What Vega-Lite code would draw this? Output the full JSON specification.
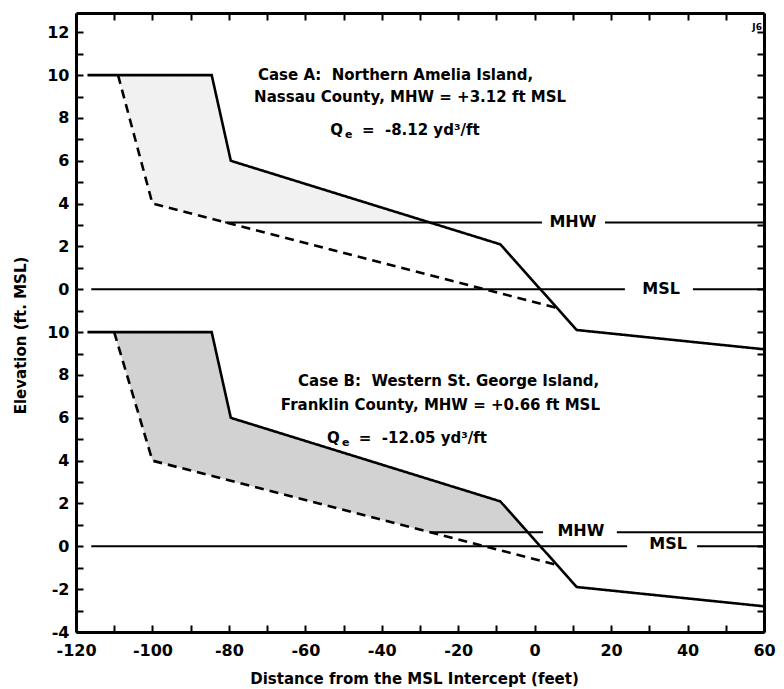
{
  "$schema": "https://vega.github.io/schema/vega-lite/v6.json",
  "autosize": {"type": "none"},
  "width": 688,
  "height": 619,
  "padding": {"left": 76, "top": 13, "right": 20, "bottom": 57},
  "background": "white",
  "config": {
    "view": {"stroke": null},
    "font": "DejaVu Sans",
    "axis": {
      "grid": false,
      "domainColor": "black",
      "domainWidth": 3,
      "tickColor": "black",
      "tickWidth": 2,
      "tickSize": -7,
      "labelFont": "DejaVu Sans",
      "labelFontWeight": "bold",
      "labelFontSize": 16,
      "labelColor": "black",
      "labelFlush": false,
      "labelOverlap": false,
      "titleFont": "DejaVu Sans",
      "titleFontWeight": "bold",
      "titleFontSize": 15,
      "titleColor": "black"
    }
  },
  "datasets": {
    "profiles": [
      {"case": "A", "profile": "pre-storm", "x": -117, "elev": 10},
      {"case": "A", "profile": "pre-storm", "x": -84.5, "elev": 10},
      {"case": "A", "profile": "pre-storm", "x": -79.5, "elev": 6},
      {"case": "A", "profile": "pre-storm", "x": -9, "elev": 2.1},
      {"case": "A", "profile": "pre-storm", "x": 11, "elev": -1.9},
      {"case": "A", "profile": "pre-storm", "x": 60, "elev": -2.8},
      {"case": "A", "profile": "post-storm", "x": -109, "elev": 10},
      {"case": "A", "profile": "post-storm", "x": -100, "elev": 4},
      {"case": "A", "profile": "post-storm", "x": 5.5, "elev": -0.85},
      {"case": "B", "profile": "pre-storm", "x": -117, "elev": 10},
      {"case": "B", "profile": "pre-storm", "x": -84.5, "elev": 10},
      {"case": "B", "profile": "pre-storm", "x": -79.5, "elev": 6},
      {"case": "B", "profile": "pre-storm", "x": -9, "elev": 2.1},
      {"case": "B", "profile": "pre-storm", "x": 11, "elev": -1.9},
      {"case": "B", "profile": "pre-storm", "x": 60, "elev": -2.8},
      {"case": "B", "profile": "post-storm", "x": -110, "elev": 10},
      {"case": "B", "profile": "post-storm", "x": -100, "elev": 4},
      {"case": "B", "profile": "post-storm", "x": 5.5, "elev": -0.85}
    ],
    "eroded": [
      {"case": "A", "x": -109, "upper": 10, "lower": 10},
      {"case": "A", "x": -100, "upper": 10, "lower": 4},
      {"case": "A", "x": -84.5, "upper": 10, "lower": 3.29},
      {"case": "A", "x": -81, "upper": 7.2, "lower": 3.12},
      {"case": "A", "x": -79.5, "upper": 6, "lower": 3.12},
      {"case": "A", "x": -27.4, "upper": 3.12, "lower": 3.12},
      {"case": "B", "x": -110, "upper": 10, "lower": 10},
      {"case": "B", "x": -100, "upper": 10, "lower": 4},
      {"case": "B", "x": -84.5, "upper": 10, "lower": 3.29},
      {"case": "B", "x": -79.5, "upper": 6, "lower": 3.06},
      {"case": "B", "x": -27.4, "upper": 3.12, "lower": 0.66},
      {"case": "B", "x": -9, "upper": 2.1, "lower": 0.66},
      {"case": "B", "x": -1.8, "upper": 0.66, "lower": 0.66}
    ],
    "levels": [
      {"case": "A", "level": "MHW", "x": -81, "x2": 1.9, "elev": 3.12},
      {"case": "A", "level": "MHW", "x": 18.4, "x2": 60, "elev": 3.12},
      {"case": "A", "level": "MSL", "x": -116, "x2": 23.6, "elev": 0},
      {"case": "A", "level": "MSL", "x": 41.4, "x2": 60, "elev": 0},
      {"case": "B", "level": "MHW", "x": -27.4, "x2": 2.2, "elev": 0.66},
      {"case": "B", "level": "MHW", "x": 21.5, "x2": 60, "elev": 0.66},
      {"case": "B", "level": "MSL", "x": -116, "x2": 24.2, "elev": 0},
      {"case": "B", "level": "MSL", "x": 42.5, "x2": 60, "elev": 0}
    ],
    "levelLabels": [
      {"case": "A", "text": "MHW", "x": 10.0, "elev": 3.12},
      {"case": "A", "text": "MSL", "x": 33.1, "elev": 0},
      {"case": "B", "text": "MHW", "x": 12.1, "elev": 0.7},
      {"case": "B", "text": "MSL", "x": 34.9, "elev": 0.1}
    ],
    "notes": [
      {"case": "A", "text": "Case A:\u00a0 Northern Amelia Island,", "x": -72.4, "elev": 10.0},
      {"case": "A", "text": "Nassau County, MHW = +3.12 ft MSL", "x": -73.4, "elev": 8.98},
      {"case": "A", "text": "Q", "x": -53.5, "elev": 7.44},
      {"case": "A", "text": "=\u00a0 -8.12 yd\u00b3/ft", "x": -45.2, "elev": 7.44},
      {"case": "B", "text": "Case B:\u00a0 Western St. George Island,", "x": -61.9, "elev": 7.72},
      {"case": "B", "text": "Franklin County, MHW = +0.66 ft MSL", "x": -66.4, "elev": 6.6},
      {"case": "B", "text": "Q", "x": -54.3, "elev": 5.06},
      {"case": "B", "text": "=\u00a0 -12.05 yd\u00b3/ft", "x": -46.0, "elev": 5.06}
    ],
    "subscripts": [
      {"case": "A", "text": "e", "x": -49.6, "elev": 7.2},
      {"case": "B", "text": "e", "x": -50.4, "elev": 4.82}
    ],
    "corner": [
      {"text": "J6", "x": 58.2, "elev": 12.25}
    ]
  },
  "layer": [
    {
      "data": {"name": "eroded"},
      "transform": [{"filter": "datum.case === 'A'"}],
      "mark": {"type": "area", "fill": "#f1f1f1", "interpolate": "linear"},
      "encoding": {
        "x": {"field": "x", "type": "quantitative", "scale": {"domain": [-120, 60], "nice": false, "zero": false}, "axis": null},
        "y": {"field": "upper", "type": "quantitative", "scale": {"domain": [-16, 12.9], "nice": false, "zero": false}, "axis": null},
        "y2": {"field": "lower"}
      }
    },
    {
      "data": {"name": "eroded"},
      "transform": [{"filter": "datum.case === 'B'"}],
      "mark": {"type": "area", "fill": "#d2d2d2", "interpolate": "linear"},
      "encoding": {
        "x": {"field": "x", "type": "quantitative", "scale": {"domain": [-120, 60], "nice": false, "zero": false}, "axis": null},
        "y": {"field": "upper", "type": "quantitative", "scale": {"domain": [-4, 24.9], "nice": false, "zero": false}, "axis": null},
        "y2": {"field": "lower"}
      }
    },
    {
      "data": {"name": "levels"},
      "transform": [{"filter": "datum.case === 'A'"}],
      "mark": {"type": "rule", "color": "black", "strokeWidth": 2},
      "encoding": {
        "x": {"field": "x", "type": "quantitative", "scale": {"domain": [-120, 60], "nice": false, "zero": false}, "axis": null},
        "x2": {"field": "x2"},
        "y": {"field": "elev", "type": "quantitative", "scale": {"domain": [-16, 12.9], "nice": false, "zero": false}, "axis": null}
      }
    },
    {
      "data": {"name": "levels"},
      "transform": [{"filter": "datum.case === 'B'"}],
      "mark": {"type": "rule", "color": "black", "strokeWidth": 2},
      "encoding": {
        "x": {"field": "x", "type": "quantitative", "scale": {"domain": [-120, 60], "nice": false, "zero": false}, "axis": null},
        "x2": {"field": "x2"},
        "y": {"field": "elev", "type": "quantitative", "scale": {"domain": [-4, 24.9], "nice": false, "zero": false}, "axis": null}
      }
    },
    {
      "data": {"name": "profiles"},
      "transform": [{"filter": "datum.case === 'A'"}],
      "mark": {"type": "line", "color": "black", "strokeWidth": 2.6},
      "encoding": {
        "x": {
          "field": "x", "type": "quantitative",
          "scale": {"domain": [-120, 60], "nice": false, "zero": false},
          "axis": {"orient": "top", "values": [-120, -110, -100, -90, -80, -70, -60, -50, -40, -30, -20, -10, 0, 10, 20, 30, 40, 50, 60], "labels": false, "title": null}
        },
        "y": {
          "field": "elev", "type": "quantitative",
          "scale": {"domain": [-16, 12.9], "nice": false, "zero": false},
          "axis": {"orient": "right", "values": [-16, -15, -14, -13, -12, -11, -10, -9, -8, -7, -6, -5, -4, -3, -2, -1, 0, 1, 2, 3, 4, 5, 6, 7, 8, 9, 10, 11, 12], "labels": false, "title": null}
        },
        "strokeDash": {"field": "profile", "type": "nominal", "scale": {"domain": ["pre-storm", "post-storm"], "range": [[1, 0], [9, 6]]}, "legend": null}
      }
    },
    {
      "data": {"name": "profiles"},
      "transform": [{"filter": "datum.case === 'B'"}],
      "mark": {"type": "line", "color": "black", "strokeWidth": 2.6},
      "encoding": {
        "x": {
          "field": "x", "type": "quantitative",
          "scale": {"domain": [-120, 60], "nice": false, "zero": false},
          "axis": {
            "orient": "bottom",
            "values": [-120, -110, -100, -90, -80, -70, -60, -50, -40, -30, -20, -10, 0, 10, 20, 30, 40, 50, 60],
            "labelExpr": "datum.value % 20 === 0 ? '' + datum.value : ''",
            "labelPadding": 17,
            "title": "Distance from the MSL Intercept (feet)",
            "titleX": 338,
            "titleY": 46,
            "titleBaseline": "middle",
            "titleAlign": "center"
          }
        },
        "y": {
          "field": "elev", "type": "quantitative",
          "scale": {"domain": [-4, 24.9], "nice": false, "zero": false},
          "axis": {
            "orient": "left",
            "values": [-4, -3, -2, -1, 0, 1, 2, 3, 4, 5, 6, 7, 8, 9, 10, 11, 12, 13, 14, 15, 16, 17, 18, 19, 20, 21, 22, 23, 24],
            "labelExpr": "datum.value % 2 !== 0 ? '' : '' + (datum.value >= 12 ? datum.value - 12 : datum.value)",
            "labelPadding": 14,
            "labelBaseline": "middle",
            "title": "Elevation (ft. MSL)",
            "titleX": -56,
            "titleY": 322,
            "titleAngle": 270,
            "titleBaseline": "middle",
            "titleAlign": "center"
          }
        },
        "strokeDash": {"field": "profile", "type": "nominal", "scale": {"domain": ["pre-storm", "post-storm"], "range": [[1, 0], [9, 6]]}, "legend": null}
      }
    },
    {
      "data": {"name": "notes"},
      "transform": [{"filter": "datum.case === 'A'"}],
      "mark": {"type": "text", "align": "left", "baseline": "middle", "font": "DejaVu Sans", "fontSize": 15, "fontWeight": "bold", "color": "black"},
      "encoding": {
        "x": {"field": "x", "type": "quantitative", "scale": {"domain": [-120, 60], "nice": false, "zero": false}, "axis": null},
        "y": {"field": "elev", "type": "quantitative", "scale": {"domain": [-16, 12.9], "nice": false, "zero": false}, "axis": null},
        "text": {"field": "text"}
      }
    },
    {
      "data": {"name": "notes"},
      "transform": [{"filter": "datum.case === 'B'"}],
      "mark": {"type": "text", "align": "left", "baseline": "middle", "font": "DejaVu Sans", "fontSize": 15, "fontWeight": "bold", "color": "black"},
      "encoding": {
        "x": {"field": "x", "type": "quantitative", "scale": {"domain": [-120, 60], "nice": false, "zero": false}, "axis": null},
        "y": {"field": "elev", "type": "quantitative", "scale": {"domain": [-4, 24.9], "nice": false, "zero": false}, "axis": null},
        "text": {"field": "text"}
      }
    },
    {
      "data": {"name": "subscripts"},
      "transform": [{"filter": "datum.case === 'A'"}],
      "mark": {"type": "text", "align": "left", "baseline": "middle", "font": "DejaVu Sans", "fontSize": 11, "fontWeight": "bold", "color": "black"},
      "encoding": {
        "x": {"field": "x", "type": "quantitative", "scale": {"domain": [-120, 60], "nice": false, "zero": false}, "axis": null},
        "y": {"field": "elev", "type": "quantitative", "scale": {"domain": [-16, 12.9], "nice": false, "zero": false}, "axis": null},
        "text": {"field": "text"}
      }
    },
    {
      "data": {"name": "subscripts"},
      "transform": [{"filter": "datum.case === 'B'"}],
      "mark": {"type": "text", "align": "left", "baseline": "middle", "font": "DejaVu Sans", "fontSize": 11, "fontWeight": "bold", "color": "black"},
      "encoding": {
        "x": {"field": "x", "type": "quantitative", "scale": {"domain": [-120, 60], "nice": false, "zero": false}, "axis": null},
        "y": {"field": "elev", "type": "quantitative", "scale": {"domain": [-4, 24.9], "nice": false, "zero": false}, "axis": null},
        "text": {"field": "text"}
      }
    },
    {
      "data": {"name": "levelLabels"},
      "transform": [{"filter": "datum.case === 'A'"}],
      "mark": {"type": "text", "align": "center", "baseline": "middle", "font": "DejaVu Sans", "fontSize": 16, "fontWeight": "bold", "color": "black"},
      "encoding": {
        "x": {"field": "x", "type": "quantitative", "scale": {"domain": [-120, 60], "nice": false, "zero": false}, "axis": null},
        "y": {"field": "elev", "type": "quantitative", "scale": {"domain": [-16, 12.9], "nice": false, "zero": false}, "axis": null},
        "text": {"field": "text"}
      }
    },
    {
      "data": {"name": "levelLabels"},
      "transform": [{"filter": "datum.case === 'B'"}],
      "mark": {"type": "text", "align": "center", "baseline": "middle", "font": "DejaVu Sans", "fontSize": 16, "fontWeight": "bold", "color": "black"},
      "encoding": {
        "x": {"field": "x", "type": "quantitative", "scale": {"domain": [-120, 60], "nice": false, "zero": false}, "axis": null},
        "y": {"field": "elev", "type": "quantitative", "scale": {"domain": [-4, 24.9], "nice": false, "zero": false}, "axis": null},
        "text": {"field": "text"}
      }
    },
    {
      "data": {"name": "corner"},
      "mark": {"type": "text", "align": "center", "baseline": "middle", "font": "DejaVu Sans", "fontSize": 9, "fontWeight": "bold", "color": "black"},
      "encoding": {
        "x": {"field": "x", "type": "quantitative", "scale": {"domain": [-120, 60], "nice": false, "zero": false}, "axis": null},
        "y": {"field": "elev", "type": "quantitative", "scale": {"domain": [-16, 12.9], "nice": false, "zero": false}, "axis": null},
        "text": {"field": "text"}
      }
    }
  ],
  "resolve": {
    "scale": {"y": "independent"},
    "axis": {"x": "independent", "y": "independent"}
  }
}
